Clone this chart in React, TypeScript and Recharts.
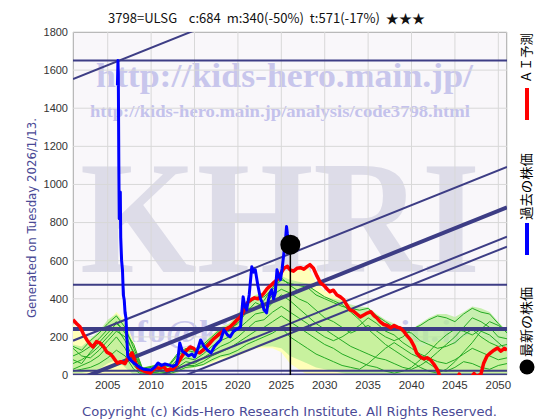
import React from 'react'
import { ComposedChart, Line, Area, Scatter, XAxis, YAxis, CartesianGrid } from 'recharts'

// axis ticks
const X_TICKS = [2005, 2010, 2015, 2020, 2025, 2030, 2035, 2040, 2045, 2050]
const Y_TICKS = [0, 200, 400, 600, 800, 1000, 1200, 1400, 1600, 1800]

// AI prediction (red)
const RED: [number, number][] = [
  [2001.0, 290], [2001.4, 270], [2001.8, 253], [2002.2, 215], [2002.6, 184], [2003.0, 160], [2003.3, 147],
  [2003.7, 175], [2004.1, 168], [2004.5, 150], [2004.9, 120], [2005.3, 110], [2005.6, 95], [2006.1, 63],
  [2006.5, 70], [2007.0, 60], [2007.2, 79], [2007.5, 100], [2007.8, 116], [2008.1, 80], [2008.4, 42],
  [2008.8, 30], [2009.2, 20], [2009.5, 16], [2009.9, 10], [2010.2, 26], [2010.6, 40], [2011.0, 35],
  [2011.4, 45], [2011.8, 25], [2012.2, 30], [2012.5, 30], [2012.9, 50], [2013.3, 79], [2013.7, 110],
  [2014.1, 130], [2014.5, 147], [2014.9, 140], [2015.3, 120], [2015.6, 116], [2016.0, 130], [2016.4, 150],
  [2016.8, 168], [2017.2, 190], [2017.6, 205], [2018.0, 221], [2018.4, 230], [2018.8, 245], [2019.1, 253],
  [2019.5, 270], [2019.9, 290], [2020.3, 305], [2020.7, 340], [2021.1, 379], [2021.5, 395], [2021.9, 405],
  [2022.3, 400], [2022.6, 410], [2023.0, 430], [2023.4, 455], [2023.8, 470], [2024.1, 484], [2024.5, 500],
  [2024.9, 530], [2025.3, 560], [2025.7, 570], [2026.0, 552], [2026.4, 545], [2026.8, 560], [2027.2, 563],
  [2027.6, 555], [2028.0, 570], [2028.3, 579], [2028.7, 560], [2029.1, 520], [2029.5, 484], [2029.9, 470],
  [2030.3, 450], [2030.6, 437], [2031.0, 445], [2031.4, 420], [2031.8, 410], [2032.2, 395], [2032.5, 370],
  [2032.9, 342], [2033.3, 335], [2033.7, 320], [2034.1, 305], [2034.5, 315], [2034.9, 325], [2035.3, 332],
  [2035.7, 310], [2036.0, 300], [2036.4, 279], [2036.8, 265], [2037.2, 260], [2037.6, 247], [2038.0, 260],
  [2038.4, 250], [2038.7, 247], [2039.1, 230], [2039.5, 205], [2039.9, 184], [2040.3, 150], [2040.6, 115],
  [2041.0, 95], [2041.4, 85], [2041.8, 90], [2042.2, 79], [2042.6, 55], [2043.0, 26], [2043.3, -10],
  [2043.6, -40], [2044.5, -60], [2045.3, -20], [2045.5, 5], [2045.7, -15], [2046.5, -40], [2047.0, -5],
  [2047.2, 8], [2047.5, -10], [2048.0, 5], [2048.3, 60], [2048.7, 100], [2049.1, 116], [2049.5, 130],
  [2049.9, 142], [2050.3, 125], [2050.7, 140], [2051.0, 131],
]

// past price (blue)
const BLUE: [number, number][] = [
  [2006.12, 1520], [2006.18, 1650], [2006.22, 1580], [2006.28, 1100], [2006.33, 820], [2006.4, 900],
  [2006.45, 960], [2006.5, 720], [2006.6, 600], [2006.7, 552], [2006.8, 420], [2006.9, 395], [2007.0, 326],
  [2007.1, 300], [2007.2, 200], [2007.3, 100], [2007.6, 79], [2008.0, 63], [2008.4, 50], [2008.8, 37],
  [2009.2, 30], [2009.6, 28], [2010.0, 26], [2010.4, 40], [2010.8, 63], [2011.2, 50], [2011.6, 58],
  [2012.0, 53], [2012.5, 45], [2012.9, 55], [2013.1, 90], [2013.3, 168], [2013.6, 125], [2013.9, 116],
  [2014.3, 100], [2014.7, 110], [2015.0, 95], [2015.4, 140], [2015.7, 184], [2016.1, 150], [2016.5, 130],
  [2016.9, 116], [2017.3, 150], [2017.7, 170], [2018.0, 184], [2018.4, 237], [2018.8, 210], [2019.1, 200],
  [2019.5, 230], [2019.9, 240], [2020.3, 253], [2020.6, 410], [2020.8, 360], [2021.0, 342], [2021.3, 420],
  [2021.5, 520], [2021.6, 568], [2021.8, 540], [2022.0, 552], [2022.3, 470], [2022.6, 400], [2022.8, 380],
  [2023.0, 342], [2023.3, 326], [2023.5, 390], [2023.7, 431], [2023.9, 447], [2024.1, 400], [2024.3, 430],
  [2024.5, 552], [2024.7, 520], [2024.9, 500], [2025.1, 560], [2025.3, 642], [2025.5, 720], [2025.6, 779],
  [2025.7, 740], [2025.8, 711], [2025.9, 650], [2026.0, 684],
]

// thin black trace near the 2006 spike
const BLACK_TRACE: [number, number][] = [
  [2006.45, 963], [2006.5, 700], [2006.7, 540], [2006.9, 400], [2007.1, 310], [2007.3, 110], [2007.5, 80],
]

const LATEST = { year: 2026.04, price: 684 }

// simulation envelope, one value per year
const YEARS = [
  2001, 2002, 2003, 2004, 2005, 2006, 2007, 2008, 2009, 2010, 2011, 2012, 2013, 2014, 2015, 2016, 2017,
  2018, 2019, 2020, 2021, 2022, 2023, 2024, 2025, 2026, 2027, 2028, 2029, 2030, 2031, 2032, 2033, 2034,
  2035, 2036, 2037, 2038, 2039, 2040, 2041, 2042, 2043, 2044, 2045, 2046, 2047, 2048, 2049, 2050, 2051,
]
const YELLOW_LO = [
  0, 0, 0, 0, 0, 0, 0, 0, 0, 0, 0, 0, 10, 30, 40, 50, 60, 80, 90, 100, 120, 140, 140, 140, 120,
  60, 30, 0, 0, 0, 0, 0, 0, 0, 0, 0, 0, 0, 0, 0, 0, 0, 0, 0, 0, 0, 0, 0, 0, 0, 0,
]
const YELLOW_HI = [
  270, 210, 190, 220, 280, 330, 290, 170, 40, 50, 60, 60, 110, 150, 140, 170, 210, 250, 270, 320, 390,
  420, 440, 490, 540, 550, 560, 570, 490, 440, 420, 390, 340, 310, 330, 290, 260, 255, 230, 200, 150,
  160, 180, 170, 160, 200, 220, 200, 180, 150, 140,
]
const GREEN_LO = [
  10, 10, 20, 30, 60, 80, 40, 0, 0, 0, 0, 0, 10, 30, 40, 50, 70, 90, 100, 110, 130, 150, 150, 150, 140,
  100, 80, 60, 40, 30, 20, 10, 0, 0, 0, 0, 0, 0, 0, 0, 0, 0, 0, 0, 0, 0, 0, 0, 0, 0, 0,
]
const GREEN_HI = [
  160, 150, 190, 230, 290, 320, 270, 160, 40, 50, 60, 60, 110, 140, 140, 170, 210, 250, 270, 320, 390,
  420, 430, 470, 520, 500, 490, 480, 440, 410, 400, 390, 370, 360, 355, 320, 290, 270, 250, 240, 270,
  300, 320, 320, 305, 330, 360, 350, 330, 280, 230,
]

// simulated paths (green), one value per year
const PATHS = [
  [150, 130, 180, 220, 270, 310, 250, 140, 30, 40, 50, 45, 100, 130, 120, 160, 200, 240, 255, 300, 370,
    400, 410, 450, 500, 480, 470, 460, 420, 400, 380, 360, 350, 340, 350, 310, 280, 250, 230, 220, 180,
    160, 140, 150, 170, 210, 240, 200, 170, 150, 160],
  [100, 120, 150, 190, 240, 280, 220, 110, 20, 30, 40, 30, 80, 110, 100, 140, 180, 210, 240, 270, 330,
    380, 360, 420, 450, 430, 400, 380, 340, 300, 280, 250, 220, 240, 260, 230, 200, 180, 200, 240, 260,
    290, 310, 300, 280, 320, 350, 330, 320, 270, 220],
  [60, 80, 110, 150, 200, 250, 180, 80, 10, 20, 30, 20, 60, 90, 80, 110, 150, 180, 200, 240, 280, 320,
    330, 380, 420, 390, 350, 310, 270, 240, 210, 180, 150, 130, 110, 90, 80, 60, 40, 30, 50, 80, 120,
    160, 200, 250, 300, 280, 250, 200, 190],
  [30, 50, 70, 100, 150, 200, 140, 50, 5, 10, 20, 10, 40, 70, 60, 90, 120, 150, 170, 200, 240, 280, 290,
    330, 360, 330, 300, 270, 230, 200, 180, 200, 230, 260, 300, 270, 230, 210, 170, 140, 110, 90, 70, 60,
    80, 110, 140, 120, 100, 80, 90],
  [140, 100, 90, 130, 180, 230, 200, 120, 25, 15, 10, 15, 30, 50, 50, 70, 100, 120, 140, 170, 200, 230,
    250, 280, 310, 280, 250, 220, 190, 160, 140, 110, 90, 70, 50, 40, 20, 10, 20, 40, 80, 120, 170, 210,
    240, 230, 210, 240, 280, 260, 230],
  [20, 30, 40, 60, 90, 130, 100, 30, 0, 5, 5, 5, 20, 40, 45, 55, 80, 100, 110, 130, 160, 180, 200, 220,
    250, 200, 170, 140, 110, 90, 70, 50, 40, 30, 60, 100, 140, 170, 140, 110, 90, 60, 30, 20, 40, 70, 60,
    40, 30, 50, 60],
  [80, 60, 120, 170, 220, 270, 230, 160, 35, 45, 55, 50, 110, 140, 130, 150, 190, 230, 230, 280, 350,
    350, 390, 460, 510, 470, 440, 470, 440, 410, 390, 370, 330, 290, 240, 200, 160, 130, 100, 70, 40, 20,
    10, 30, 70, 120, 170, 230, 210, 170, 130],
]

// support / resistance levels and trend channel (value at 2001 and at 2051)
const LEVELS = [1650, 474, 242, 22, 0]
const TREND_START = [1553, 180, -35, -186, -238]
const TREND_END = [2465, 1092, 880, 726, 674]

const LEVEL_WIDTH = [2, 2, 4, 2, 3]
const TREND_WIDTH = [2, 2, 4, 2, 2]
const NAVY = '#3d3d85'

const toPts = (arr: [number, number][]) => arr.map(([x, y]) => ({ x, y }))

export default function App() {
  const bandData = YEARS.map((x, i) => ({ x, yellow: [YELLOW_LO[i], YELLOW_HI[i]], green: [GREEN_LO[i], GREEN_HI[i]] }))
  const paths = PATHS.map((p) => p.map((y, i) => ({ x: YEARS[i], y })))
  const levels = LEVELS.map((v) => [{ x: 2001, y: v }, { x: 2051, y: v }])
  const trends = TREND_START.map((v, i) => [{ x: 2001, y: v }, { x: 2051, y: TREND_END[i] }])
  const serif = '"Liberation Serif", "DejaVu Serif", serif'

  return (
    <div style={{ position: 'absolute', left: 0, top: 0, width: 560, height: 420, background: '#fff', overflow: 'hidden' }}>
      {/* plot background with watermark */}
      <div style={{ position: 'absolute', left: 73, top: 32, width: 434, height: 343, background: '#f9f7fa', boxSizing: 'border-box', border: '1px solid #9a9a9a' }}>
        <svg width={434} height={343} style={{ position: 'absolute', left: -1, top: -1 }}>
          <text x={23} y={55} fontFamily={serif} fontWeight="bold" fontSize={34} fill="#c8c6ec" textLength={377} lengthAdjust="spacingAndGlyphs">http://kids-hero.main.jp/</text>
          <text x={17} y={85} fontFamily={serif} fontWeight="bold" fontSize={16} fill="#c4c2ec" textLength={380} lengthAdjust="spacingAndGlyphs">http://kids-hero.main.jp/analysis/code3798.html</text>
          <text x={7} y={240} fontFamily={serif} fontWeight="bold" fontSize={160} fill="#dddce8" textLength={400} lengthAdjust="spacingAndGlyphs">KHRI</text>
          <text x={33} y={310} fontFamily={serif} fontWeight="bold" fontSize={32} fill="#cac8ec" textLength={365} lengthAdjust="spacingAndGlyphs">info@kids-hero.main.jp</text>
        </svg>
      </div>

      <div style={{ position: 'absolute', left: 0, top: 0 }}>
        <ComposedChart width={560} height={420} margin={{ top: 32, right: 53, bottom: 15, left: 0 }}>
          <CartesianGrid stroke="#d8d8d8" strokeWidth={1} />
          <XAxis dataKey="x" type="number" domain={[2001, 2051]} ticks={X_TICKS} allowDataOverflow height={30}
            tickLine={false} axisLine={false} interval={0} tickSize={4} tickMargin={2}
            tick={{ fontSize: 11.5, fill: '#333', fontFamily: '"Liberation Sans", Arial, sans-serif' }} />
          <YAxis dataKey="y" type="number" domain={[0, 1800]} ticks={Y_TICKS} allowDataOverflow width={73}
            tickLine={false} axisLine={false} interval={0} tickSize={3} tickMargin={2}
            tick={{ fontSize: 11, fill: '#333', fontFamily: '"Liberation Sans", Arial, sans-serif' }} />

          <Area data={bandData} dataKey="yellow" type="linear" stroke="none" fill="#ffffb8" fillOpacity={1} isAnimationActive={false} />
          <Area data={bandData} dataKey="green" type="linear" stroke="none" fill="#b6ec96" fillOpacity={0.75} isAnimationActive={false} />

          {paths.map((p, i) => (
            <Line key={'p' + i} data={p} dataKey="y" type="linear" stroke="#24aa24" strokeWidth={1} dot={false} activeDot={false} isAnimationActive={false} />
          ))}
          {levels.map((p, i) => (
            <Line key={'l' + i} data={p} dataKey="y" stroke={NAVY} strokeWidth={LEVEL_WIDTH[i]} dot={false} activeDot={false} isAnimationActive={false} />
          ))}
          {trends.map((p, i) => (
            <Line key={'t' + i} data={p} dataKey="y" stroke={NAVY} strokeWidth={TREND_WIDTH[i]} dot={false} activeDot={false} isAnimationActive={false} />
          ))}
          <Line data={toPts(RED)} dataKey="y" type="linear" stroke="#ff0000" strokeWidth={3.5} strokeLinejoin="round" dot={false} activeDot={false} isAnimationActive={false} />
          <Line data={toPts(BLACK_TRACE)} dataKey="y" stroke="#000" strokeWidth={1.2} dot={false} activeDot={false} isAnimationActive={false} />
          <Line data={toPts(BLUE)} dataKey="y" type="linear" stroke="#0000ff" strokeWidth={3} strokeLinejoin="round" dot={false} activeDot={false} isAnimationActive={false} />
          <Line data={[{ x: LATEST.year, y: 0 }, { x: LATEST.year, y: LATEST.price }]} dataKey="y" stroke="#000" strokeWidth={1.5} dot={false} activeDot={false} isAnimationActive={false} />
          <Scatter data={[{ x: LATEST.year, y: LATEST.price }]} dataKey="y" fill="#000" isAnimationActive={false}
            shape={(p: any) => <circle cx={p.cx} cy={p.cy} r={10} fill="#000" />} />
        </ComposedChart>
      </div>

      {/* titles and legend */}
      <svg width={560} height={420} style={{ position: 'absolute', left: 0, top: 0, pointerEvents: 'none' }}>
        <text x={108} y={23} fontFamily='"Noto Sans CJK JP", sans-serif' fontSize={13} fill="#111" textLength={317} lengthAdjust="spacingAndGlyphs" style={{ whiteSpace: 'pre' }}>
          {'3798=ULSG    c:684  m:340(-50%)  t:571(-17%)  ★★★'}
        </text>
        <text x={36} y={318} transform="rotate(-90 36 318)" fontFamily='"DejaVu Sans", sans-serif' fontSize={12.5} fill="#4a4a96" textLength={200} lengthAdjust="spacingAndGlyphs">
          Generated on Tuesday 2026/1/13.
        </text>
        <text x={82} y={416} fontFamily='"DejaVu Sans", sans-serif' fontSize={13} fill="#4a4a96" textLength={415} lengthAdjust="spacingAndGlyphs">
          Copyright (c) Kids-Hero Research Institute. All Rights Reserved.
        </text>

        <text x={531} y={83} transform="rotate(-90 531 83)" fontFamily='"Noto Sans CJK JP", sans-serif' fontSize={13} fill="#000" textLength={50} lengthAdjust="spacingAndGlyphs">ＡＩ予測</text>
        <rect x={525} y={88} width={4} height={32} fill="#ff0000" />
        <text x={531} y={220} transform="rotate(-90 531 220)" fontFamily='"Noto Sans CJK JP", sans-serif' fontSize={13} fill="#000" textLength={67} lengthAdjust="spacingAndGlyphs">過去の株価</text>
        <rect x={525} y={223} width={4} height={32} fill="#0000ff" />
        <text x={531} y={357} transform="rotate(-90 531 357)" fontFamily='"Noto Sans CJK JP", sans-serif' fontSize={13} fill="#000" textLength={70} lengthAdjust="spacingAndGlyphs">最新の株価</text>
        <circle cx={527} cy={367} r={7.5} fill="#000" />
      </svg>
    </div>
  )
}
